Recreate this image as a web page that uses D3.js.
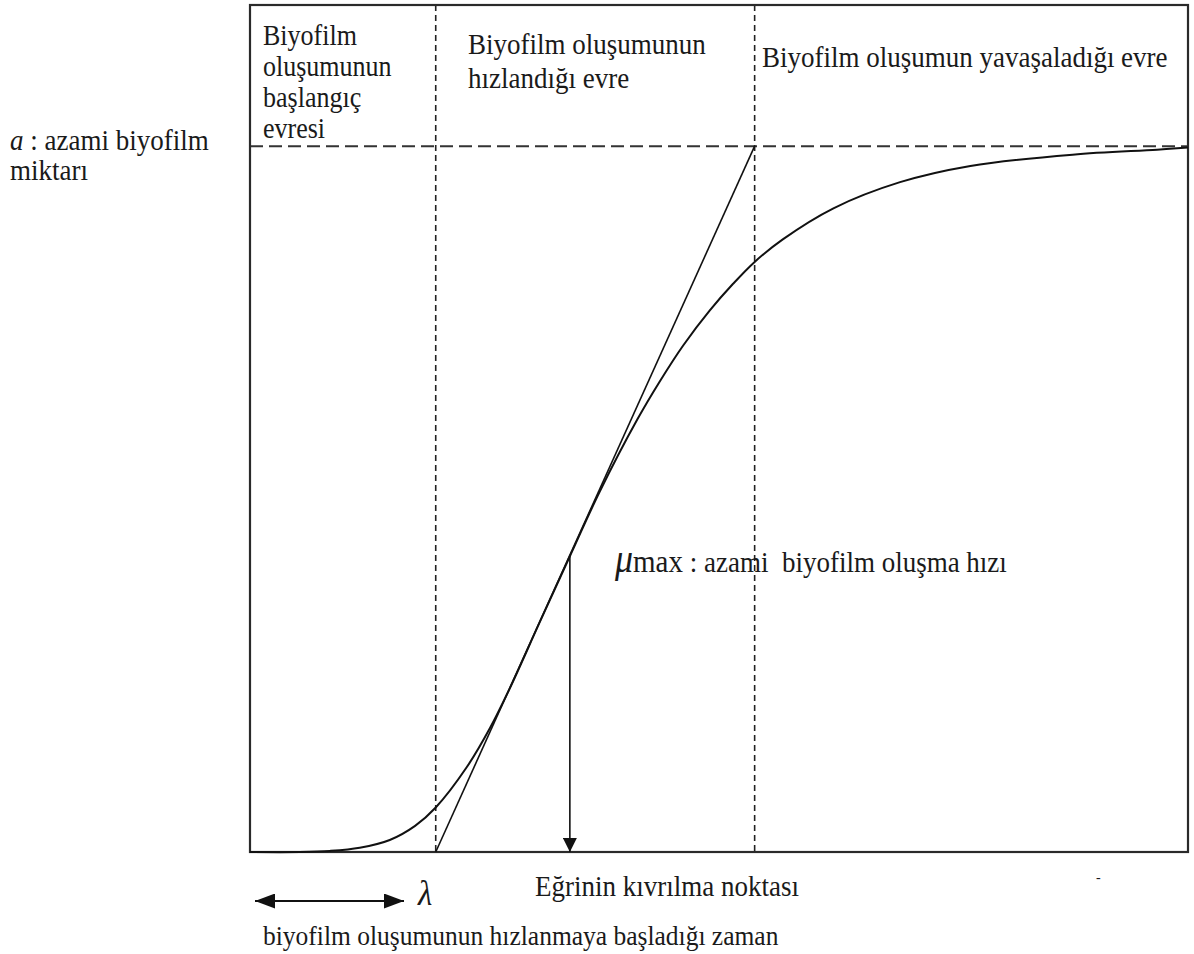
<!DOCTYPE html>
<html>
<head>
<meta charset="utf-8">
<script src="https://cdn.jsdelivr.net/npm/d3@7"></script>
<style>
  html, body { margin: 0; padding: 0; background: #fff; }
  svg { display: block; }
  text { font-family: "Liberation Serif", "Times New Roman", serif; fill: #1a1a1a; white-space: pre; }
</style>
</head>
<body>
<svg id="chart" width="1194" height="954"></svg>
<script>
// Biofilm growth curve: time (relative units, 0–100) vs. biofilm amount (fraction of a)
const curveTime  = [0, 5.3, 8.5, 11.7, 14.9, 17.6, 19.8, 23.1, 25.6, 27.7, 30.9, 34.1,
                    37.3, 41.3, 43.7, 46.2, 49.0, 51.5, 53.8, 56.8, 62.2, 69.3, 76.8, 87.7, 96.7, 100];
const curveValue = [0, 0, 0.0015, 0.006, 0.017, 0.037, 0.063, 0.120, 0.176, 0.232, 0.326, 0.419,
                    0.511, 0.613, 0.667, 0.718, 0.767, 0.805, 0.836, 0.868, 0.912, 0.949, 0.972, 0.988, 0.995, 0.998];

// Key quantities
const lagTime = 19.8;          // λ
const plateauTime = 53.8;      // where the μmax tangent reaches a
const maxAmount = 1;           // a
const inflectionTime = 34.1;
const inflectionValue = 0.42;
const timeDomain = [0, 100];
const valueDomain = [0, 1.2];

// Tangent (μmax) endpoints
const tangentTime  = [lagTime, plateauTime];
const tangentValue = [0, maxAmount];

// Phase labels
const phaseEarly = ["Biyofilm", "oluşumunun", "başlangıç", "evresi"];
const phaseFast  = ["Biyofilm oluşumunun", "hızlandığı evre"];
const phaseSlow  = ["Biyofilm oluşumun yavaşaladığı evre"];

const svg = d3.select("#chart");

const x = d3.scaleLinear().domain(timeDomain).range([250, 1188]);
const y = d3.scaleLinear().domain(valueDomain).range([852, 5]);

const defs = svg.append("defs");
function marker(id, orient, w, h) {
  defs.append("marker")
    .attr("id", id)
    .attr("viewBox", "0 0 10 10")
    .attr("preserveAspectRatio", "none")
    .attr("refX", 10).attr("refY", 5)
    .attr("markerUnits", "userSpaceOnUse")
    .attr("markerWidth", w).attr("markerHeight", h)
    .attr("orient", orient)
    .append("path").attr("d", "M0,0 L10,5 L0,10 Z").attr("fill", "#111");
}
marker("head", "auto", 20, 15);
marker("headStart", "auto-start-reverse", 20, 15);
marker("headDown", "auto", 14, 14);

// Reference lines
const [t0, t1] = timeDomain;
svg.append("line")
  .attr("x1", x(t0)).attr("x2", x(t1))
  .attr("y1", y(maxAmount)).attr("y2", y(maxAmount))
  .attr("stroke", "#333").attr("stroke-width", 2).attr("stroke-dasharray", "13,6");

[lagTime, plateauTime].forEach(t => {
  svg.append("line")
    .attr("x1", x(t)).attr("x2", x(t))
    .attr("y1", y(valueDomain[1])).attr("y2", y(0))
    .attr("stroke", "#222").attr("stroke-width", 1.6).attr("stroke-dasharray", "6,4");
});

// Frame
svg.append("rect")
  .attr("x", x(t0)).attr("y", y(valueDomain[1]))
  .attr("width", x(t1) - x(t0)).attr("height", y(0) - y(valueDomain[1]))
  .attr("fill", "none").attr("stroke", "#2a2a2a").attr("stroke-width", 2.2);

// Growth curve
const pts = curveTime.map((t, i) => [t, curveValue[i]]);
svg.append("path")
  .datum(pts)
  .attr("d", d3.line().x(d => x(d[0])).y(d => y(d[1])).curve(d3.curveCatmullRom.alpha(0.5)))
  .attr("fill", "none").attr("stroke", "#111").attr("stroke-width", 2);

// μmax tangent
svg.append("line")
  .attr("x1", x(tangentTime[0])).attr("y1", y(tangentValue[0]))
  .attr("x2", x(tangentTime[1])).attr("y2", y(tangentValue[1]))
  .attr("stroke", "#111").attr("stroke-width", 1.6);

// Inflection arrow
svg.append("line")
  .attr("x1", x(inflectionTime)).attr("y1", y(inflectionValue))
  .attr("x2", x(inflectionTime)).attr("y2", y(0))
  .attr("stroke", "#111").attr("stroke-width", 1.6)
  .attr("marker-end", "url(#headDown)");

// λ span arrow
svg.append("line")
  .attr("x1", 255).attr("y1", 901)
  .attr("x2", 404).attr("y2", 901)
  .attr("stroke", "#111").attr("stroke-width", 2)
  .attr("marker-start", "url(#headStart)")
  .attr("marker-end", "url(#head)");

// Text helper (slightly tall serif type)
function label(px, py, str, size, opts = {}) {
  const t = svg.append("text")
    .attr("transform", `translate(${px},${py}) scale(1,1.1)`)
    .attr("font-size", size);
  if (opts.italic) t.attr("font-style", "italic");
  t.text(str);
  return t;
}

phaseEarly.forEach((s, i) => label(263, 45 + i * 31, s, 26));
phaseFast.forEach((s, i) => label(468, 54 + i * 34, s, 27));
phaseSlow.forEach((s) => label(762, 67, s, 27));

// a label
const aLab = svg.append("text")
  .attr("transform", "translate(10,150) scale(1,1.1)")
  .attr("font-size", 27);
aLab.append("tspan").attr("font-style", "italic").text("a");
aLab.append("tspan").text(" : azami biyofilm");
label(10, 180, "miktarı", 27);

// μmax label
const muLab = svg.append("text")
  .attr("transform", "translate(615,572) scale(1,1.1)");
muLab.append("tspan").attr("font-size", 36).attr("font-style", "italic").text("μ");
muLab.append("tspan").attr("font-size", 29).text("max");
muLab.append("tspan").attr("font-size", 27).text(" : azami  biyofilm oluşma hızı");

label(535, 896, "Eğrinin kıvrılma noktası", 27);
label(418, 905, "λ", 33, { italic: true });
label(263, 945, "biyofilm oluşumunun hızlanmaya başladığı zaman", 25.5);
svg.append("text").attr("x", 1096).attr("y", 882).attr("font-size", 14).attr("fill", "#999").text("-");
</script>
</body>
</html>
